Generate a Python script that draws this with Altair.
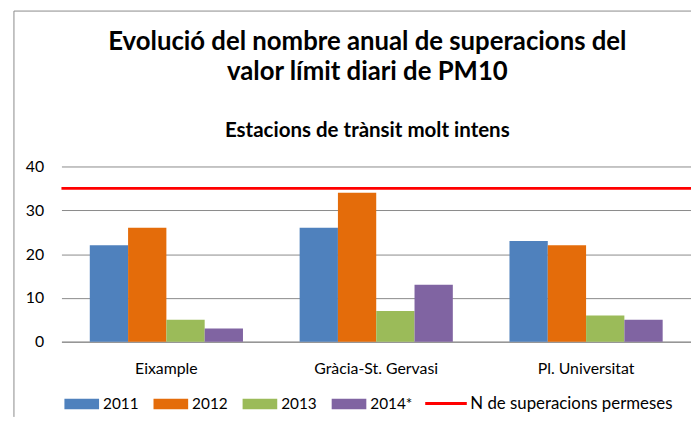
import altair as alt
import pandas as pd

# ---- data ----
stations = ["Eixample", "Gràcia-St. Gervasi", "Pl. Universitat"]
years = ["2011", "2012", "2013", "2014*"]
v2011 = [22, 26, 23]
v2012 = [26, 34, 22]
v2013 = [5, 7, 6]
v2014 = [3, 13, 5]
limit_label = "N de superacions permeses"
limit_value = [35]
bar_colors = ["#4F81BD", "#E46C0A", "#9BBB59", "#8064A2"]
limit_color = "#FF0000"

rows = []
for yr, vals in zip(years, [v2011, v2012, v2013, v2014]):
    for s, v in zip(stations, vals):
        rows.append({"station": s, "series": yr, "value": v})
bars_df = pd.DataFrame(rows)
limit_df = pd.DataFrame({"limit": [limit_label], "value": limit_value})

# ---- style ----
FONT = "Lato"
GRID = "#8a8a8a"
W, H = 636, 177
PAD_L, PAD_T, PAD_B = 54, 158, 76

bar_legend = alt.Legend(
    title=None, orient="none", legendX=3, legendY=222.5, direction="horizontal",
    columns=4, symbolType="M-1,-0.3H1V0.3H-1Z", symbolSize=1225, symbolStrokeWidth=0,
    labelOffset=4, columnPadding=15, labelFont=FONT, labelFontSize=15.5,
    labelColor="#000", padding=0, labelLimit=300,
)
line_legend = alt.Legend(
    title=None, orient="none", legendX=366, legendY=217, direction="horizontal",
    symbolType="stroke", symbolSize=1764, symbolStrokeWidth=3,
    labelOffset=2, labelFont=FONT, labelFontSize=17, labelColor="#000",
    padding=0, labelLimit=300,
)

bars = alt.Chart(bars_df).mark_bar().encode(
    x=alt.X("station:N", sort=stations,
            scale=alt.Scale(paddingInner=0.27, paddingOuter=0.135),
            axis=alt.Axis(title=None, labelAngle=0, ticks=False, domainColor=GRID,
                          labelPadding=19, labelFont=FONT, labelFontSize=16, labelColor="#000")),
    xOffset=alt.XOffset("series:N", sort=years, scale=alt.Scale(paddingInner=0, paddingOuter=0)),
    y=alt.Y("value:Q", scale=alt.Scale(domain=[0, 40], nice=False),
            axis=alt.Axis(title=None, values=[0, 10, 20, 30, 40], grid=True, gridColor=GRID,
                          domain=False, ticks=False, labelPadding=18, labelFont=FONT,
                          labelFontSize=16, labelColor="#000")),
    color=alt.Color("series:N", sort=years,
                    scale=alt.Scale(domain=years, range=bar_colors), legend=bar_legend),
)

limit_rule = alt.Chart(limit_df).mark_rule(strokeWidth=3).encode(
    y=alt.Y("value:Q"),
    stroke=alt.Stroke("limit:N", scale=alt.Scale(domain=[limit_label], range=[limit_color]),
                      legend=line_legend),
)

border_left = alt.Chart(limit_df).mark_rule(color=GRID, strokeWidth=1).encode(
    x=alt.value(-48), y=alt.value(-157), y2=alt.value(H + PAD_B)
)
border_top = alt.Chart(limit_df).mark_rule(color=GRID, strokeWidth=1).encode(
    x=alt.value(-48), x2=alt.value(W), y=alt.value(-157)
)

title = alt.Title(
    ["Evolució del nombre anual de superacions del", "valor límit diari de PM10"],
    subtitle="Estacions de trànsit molt intens",
    font=FONT, fontSize=26, fontWeight="bold", lineHeight=30, color="#000",
    subtitleFont=FONT, subtitleFontSize=20.7, subtitleFontWeight="bold", subtitleColor="#000",
    subtitlePadding=36, anchor="middle", frame="group", dx=-9, offset=-131,
)

chart = alt.layer(border_left, border_top, bars, limit_rule).properties(
    width=W, height=H, title=title,
    autosize=alt.AutoSizeParams(type="none"),
    padding={"left": PAD_L, "top": PAD_T, "right": 0, "bottom": PAD_B},
).resolve_scale(color="independent", stroke="independent").configure_view(stroke=None)

chart.save("out.html", embed_options={"renderer": "svg", "actions": False})
